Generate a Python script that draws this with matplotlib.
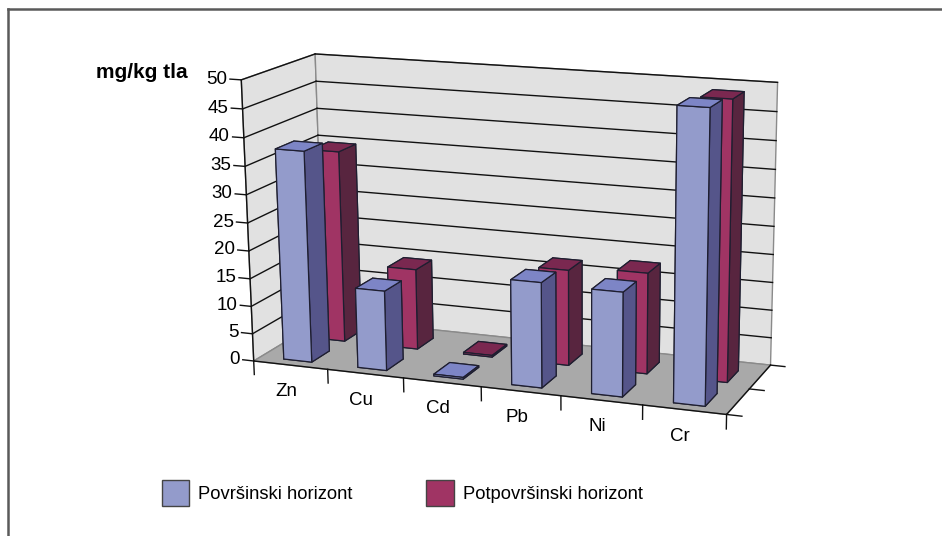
import matplotlib
matplotlib.use('Agg')
import matplotlib.pyplot as plt
import numpy as np
from matplotlib.patches import Patch
from matplotlib.lines import Line2D
from matplotlib.transforms import offset_copy
from mpl_toolkits.mplot3d import proj3d
from mpl_toolkits.mplot3d.art3d import Poly3DCollection

# ---- data ----
categories = ['Zn', 'Cu', 'Cd', 'Pb', 'Ni', 'Cr']
povrsinski = [37.8, 14.3, 0.3, 18.5, 18.2, 50]
potpovrsinski = [35, 14.7, 0.3, 17.2, 18, 49]
series_names = ['Površinski horizont', 'Potpovršinski horizont']
value_ticks = [0, 5, 10, 15, 20, 25, 30, 35, 40, 45, 50]
unit_label = 'mg/kg tla'

plt.rcParams['font.family'] = ['Liberation Sans', 'DejaVu Sans']

blue = dict(front='#939bcb', top='#7d85c6', right='#55558a')
red = dict(front='#a03464', top='#7a2850', right='#58253f')
wall_col = '#e1e1e1'
floor_col = '#a9a9a9'

W, H = 942, 536
fig = plt.figure(figsize=(W / 100, H / 100), dpi=100)

s = 536.0
cx, cy = 584.0, 236.0
left = cx - 0.5135 * s
bottom = cy - 0.5135 * s
ax = fig.add_axes([left / W, bottom / H, s / W, s / H], projection='3d')
ax.computed_zorder = False

nx = len(categories)
x0, x1 = -0.5, nx - 0.5
zmax = value_ticks[-1]
xlim = (x0, 7.38)
ylim = (0, 2)
zlim = (-24.4, zmax)
ax.set_xlim(*xlim)
ax.set_ylim(*ylim)
ax.set_zlim(*zlim)
ux, uy, uz = 0.0659, 0.0443 * 1.45, 0.00458
zoom = 1.46
ax.set_box_aspect(((xlim[1] - xlim[0]) * ux, (ylim[1] - ylim[0]) * uy,
                   (zlim[1] - zlim[0]) * uz), zoom=zoom)
ax.set_proj_type('persp', focal_length=0.2837 * zoom * 1.8)
ax.view_init(elev=16, azim=-70.5)

for a in (ax.xaxis, ax.yaxis, ax.zaxis):
    a.set_pane_color((1, 1, 1, 0))
    a.pane.set_edgecolor((1, 1, 1, 0))
    a.line.set_color((0, 0, 0, 0))
    a.set_ticks([])
ax.grid(False)

floor = [[(x0, 0, 0), (x1, 0, 0), (x1, 2, 0), (x0, 2, 0)]]
back = [[(x0, 2, 0), (x1, 2, 0), (x1, 2, zmax), (x0, 2, zmax)]]
side = [[(x0, 0, 0), (x0, 2, 0), (x0, 2, zmax), (x0, 0, zmax)]]
walls = Poly3DCollection(back + side + floor,
                         facecolors=[wall_col, wall_col, floor_col],
                         edgecolors='#8a8a8a', linewidths=1.0, zorder=0)
walls.set_clip_on(False)
ax.add_collection3d(walls)

lk = dict(color='#111111', lw=1.0, clip_on=False)
for v in value_ticks[1:]:
    ax.plot([x0, x1], [2, 2], [v, v], zorder=1, **lk)
    ax.plot([x0, x0], [0, 2], [v, v], zorder=1, **lk)

w, d = 0.38, 0.5
row_start = [0.2, 1.15]
xs, ys, hs, cols = [], [], [], []
for si, (vals, c) in enumerate([(povrsinski, blue), (potpovrsinski, red)]):
    for i, v in enumerate(vals):
        xs.append(i - w / 2)
        ys.append(row_start[si])
        hs.append(v)
        cols += [c['front'], c['top'], c['front'], c['front'], c['front'], c['right']]
bars = ax.bar3d(xs, ys, np.zeros(len(xs)), w, d, hs, color=cols, shade=False,
                edgecolor='#1e1e30', linewidth=0.9, zorder=2)
bars.set_clip_on(False)

ax.plot([x0, x1], [0, 0], [0, 0], zorder=3, **lk)
ax.plot([x0, x0], [0, 0], [0, zmax], zorder=3, **lk)
ax.plot([x1, x1], [0, 2], [0, 0], zorder=3, **lk)
for k in range(nx + 1):
    ax.plot([x0 + k, x0 + k], [0, 0], [0, -2.5], zorder=3, **lk)
for k in range(3):
    ax.plot([x1, x1 + 0.18], [k, k], [0, 0], zorder=3, **lk)
for v in value_ticks:
    ax.plot([x0, x0 - 0.15], [0, 0], [v, v], zorder=3, **lk)

fig.canvas.draw()
M = ax.get_proj()


def fig_pos(x, y, z):
    px, py, _ = proj3d.proj_transform(x, y, z, M)
    disp = ax.transData.transform((px, py))
    return fig.transFigure.inverted().transform(disp)


tr_left = offset_copy(fig.transFigure, fig=fig, x=-2, y=0, units='points')
for v in value_ticks:
    fx, fy = fig_pos(x0 - 0.15, 0, v)
    fig.text(fx, fy, str(v), ha='right', va='center', fontsize=13.5, transform=tr_left)
tr_down = offset_copy(fig.transFigure, fig=fig, x=-3, y=-13, units='points')
for i, name in enumerate(categories):
    fx, fy = fig_pos(i, 0, 0)
    fig.text(fx, fy, name, ha='center', va='top', fontsize=13.5, transform=tr_down)

fig.text(0.102, 0.864, unit_label, fontsize=15, fontweight='bold', ha='left', va='center')

handles = [Patch(facecolor=blue['front'], edgecolor='#444444'),
           Patch(facecolor=red['front'], edgecolor='#444444')]
fig.legend(handles, series_names, loc='center', bbox_to_anchor=(0.427, 0.080), ncol=2,
           frameon=False, fontsize=13.2, handlelength=1.5, handleheight=1.75,
           handletextpad=0.5, columnspacing=4.0)

fig.add_artist(Line2D([8 / W, 1], [1 - 9 / H, 1 - 9 / H], color='#5a5a5a', lw=1.8,
                      transform=fig.transFigure))
fig.add_artist(Line2D([8 / W, 8 / W], [0, 1 - 9 / H], color='#5a5a5a', lw=1.8,
                      transform=fig.transFigure))

fig.savefig('out.png', dpi=100)
